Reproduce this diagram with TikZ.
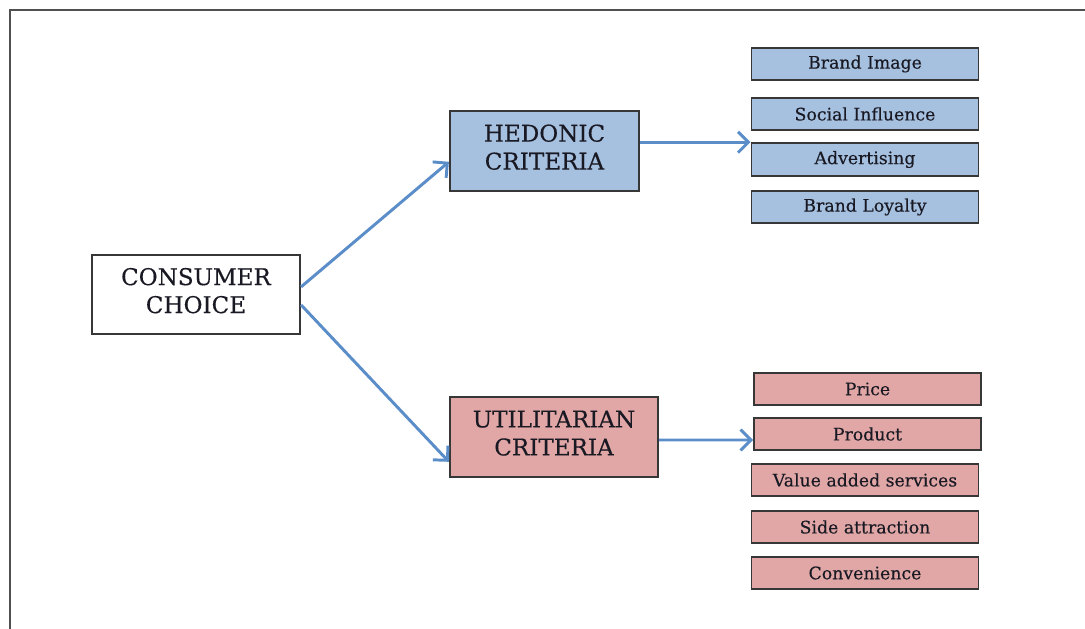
\documentclass[tikz,border=0pt]{standalone}
\usepackage{fontspec}
\setmainfont{DejaVu Serif}[FakeBold=0.3]
\usepackage{tikz}
\usetikzlibrary{arrows.meta,calc}
\usepackage{color}

\definecolor{hedblue}{RGB}{166,192,224}
\definecolor{utired}{RGB}{225,167,166}
\definecolor{flowblue}{RGB}{91,141,201}
\definecolor{boxline}{RGB}{55,55,55}
\definecolor{framegray}{RGB}{80,80,80}
\definecolor{textdark}{RGB}{25,25,35}

\tikzset{
    bigbox/.style={draw=boxline, line width=1.5pt, align=center, inner sep=0pt,
        text=textdark, font=\fontsize{16.4}{19.9}\selectfont},
    itembox/.style={draw=boxline, line width=1.3pt, inner sep=0pt,
        minimum width=5.675cm, minimum height=0.82cm,
        text=textdark, font=\fontsize{12.3}{14}\selectfont},
    flow/.style={draw=flowblue, line width=2.1pt, ->},
    >={Straight Barb[length=2.6mm,width=5.2mm]}
}

\begin{document}
\begin{tikzpicture}[x=0.025cm, y=-0.025cm]
    % page size and the frame
    \useasboundingbox (0,0) rectangle (1085,629);
    \draw[framegray, line width=1.1pt] (10,629) -- (10,10) -- (1085,10);

    % the three main boxes
    \node[bigbox, fill=white, minimum width=5.2cm, minimum height=1.975cm] (consumer) at (196,294.5) {CONSUMER\\CHOICE\\[-0.5cm]};
    \node[bigbox, fill=hedblue, minimum width=4.725cm, minimum height=2cm] (hedonic) at (544.5,151) {HEDONIC\\CRITERIA\\[-0.5cm]};
    \node[bigbox, fill=utired, minimum width=5.2cm, minimum height=2cm] (utilitarian) at (554,437) {UTILITARIAN\\CRITERIA\\[-0.5cm]};

    % hedonic criteria
    \node[itembox, fill=hedblue] (brandimage) at (865,64) {Brand Image};
    \node[itembox, fill=hedblue] (social) at (865,114) {Social Influence};
    \node[itembox, fill=hedblue] (advertising) at (865,159.5) {Advertising};
    \node[itembox, fill=hedblue] (loyalty) at (865,207) {Brand Loyalty};

    % utilitarian criteria
    \node[itembox, fill=utired] (price) at (867.5,389) {Price};
    \node[itembox, fill=utired] (product) at (867.5,434) {Product};
    \node[itembox, fill=utired] (services) at (865,480) {Value added services};
    \node[itembox, fill=utired] (side) at (865,527) {Side attraction};
    \node[itembox, fill=utired] (convenience) at (865,573) {Convenience};

    % draw the arrows
    \draw[flow] ([yshift=0.19cm]consumer.east) -- ([yshift=-0.27cm]hedonic.west);
    \draw[flow] ([yshift=-0.26cm]consumer.east) -- ([yshift=-0.62cm]utilitarian.west);
    \draw[flow] (hedonic.east |- advertising.north west) -- (advertising.north west);
    \draw[flow] ([yshift=-0.075cm]utilitarian.east) -- ([yshift=-0.15cm]product.west);
\end{tikzpicture}
\end{document}
